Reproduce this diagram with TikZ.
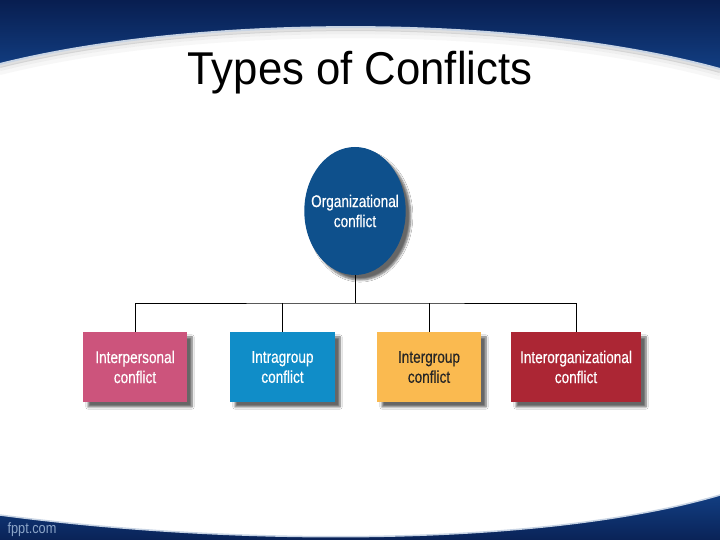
\documentclass[tikz,border=0pt]{standalone}
\usepackage{fontspec}
\setmainfont{Liberation Sans}
\newfontfamily\labelfont{Liberation Sans}[FakeStretch=0.8,FakeBold=0.4]
\newfontfamily\sitefont{Liberation Sans}[FakeStretch=0.85]
\newfontfamily\titlefont{Liberation Sans}[FakeStretch=0.95]
\usetikzlibrary{shapes.geometric,shadows.blur}
\definecolor{navytop}{RGB}{8,30,80}
\definecolor{navylow}{RGB}{18,62,130}
\definecolor{rimblue}{RGB}{200,212,228}
\definecolor{orgblue}{RGB}{14,80,140}
\definecolor{perspink}{RGB}{204,84,124}
\definecolor{intrablue}{RGB}{16,141,200}
\definecolor{interorange}{RGB}{250,186,80}
\definecolor{iorgred}{RGB}{172,38,52}
\definecolor{sitegrey}{RGB}{140,165,200}

\begin{document}
\begin{tikzpicture}[x=1pt,y=1pt,
  typebox/.style={rectangle,inner sep=0pt,minimum height=70pt,align=center,
    text=white,font=\labelfont\fontsize{17}{20}\selectfont,
    blur shadow={shadow xshift=5pt,shadow yshift=-5pt,shadow blur steps=6,shadow opacity=60}},
  link/.style={line width=0.9pt}]
  \useasboundingbox (0,0) rectangle (720,540);
  \fill[white] (0,0) rectangle (720,540);
  % slide frame
  \shade[top color=navytop,bottom color=navylow] (0,540) -- (720,540) -- (720,471)
    .. controls (520,526) and (200,526) .. (0,476) -- cycle;
  \foreach \d/\o in {2/0.3,5/0.15,9/0.08}
    \draw[line width=4pt,black!40,opacity=\o] (0,476-\d) .. controls (200,526-\d) and (520,526-\d) .. (720,471-\d);
  \draw[line width=2pt,rimblue] (0,476) .. controls (200,526) and (520,526) .. (720,471);
  \shade[top color=navylow,bottom color=navytop] (0,0) -- (0,25)
    .. controls (250,-8) and (550,-5) .. (720,45) -- (720,0) -- cycle;
  \draw[line width=1.5pt,rimblue] (0,25) .. controls (250,-8) and (550,-5) .. (720,45);
  \node[anchor=west,text=sitegrey,font=\sitefont\fontsize{15}{17}\selectfont] (site) at (4,10) {fppt.com};
  \node[anchor=base,font=\titlefont\fontsize{46}{50}\selectfont] (title) at (360,455) {Types of Conflicts};
  % chart
  \node[ellipse,inner ysep=0pt,inner xsep=-8pt,minimum width=100pt,minimum height=128pt,fill=orgblue,align=center,
    text=white,font=\labelfont\fontsize{17}{20}\selectfont,
    blur shadow={shadow xshift=5pt,shadow yshift=-5pt,shadow blur steps=6,shadow opacity=60}]
    (org) at (355,329) {Organizational\\conflict};
  \node[typebox,fill=perspink,minimum width=104pt] (pers) at (135,173) {Interpersonal\\conflict};
  \node[typebox,fill=intrablue,minimum width=105pt] (intra) at (282.5,173) {Intragroup\\conflict};
  \node[typebox,fill=interorange,minimum width=104pt,text=black!85] (inter) at (429,173) {Intergroup\\conflict};
  \node[typebox,fill=iorgred,minimum width=130pt] (iorg) at (576,173) {Interorganizational\\conflict};
  \coordinate (bar) at (355,237);
  \draw[link] (org.south) -- (bar);
  \draw[link] (pers.north) |- (bar) -| (iorg.north);
  \draw[link] (intra.north) -- (intra.north |- bar);
  \draw[link] (inter.north) -- (inter.north |- bar);
\end{tikzpicture}
\end{document}
